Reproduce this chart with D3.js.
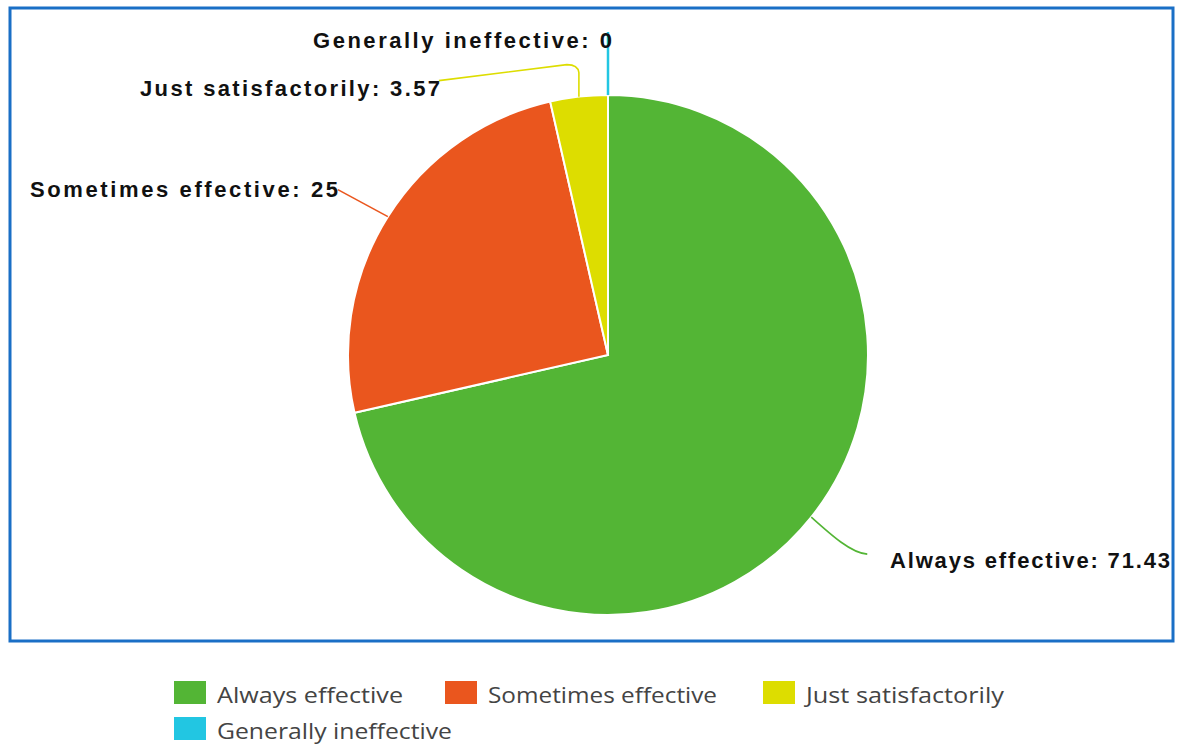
<!DOCTYPE html>
<html>
<head>
<meta charset="utf-8">
<script src="https://cdn.jsdelivr.net/npm/d3@7"></script>
<style>
  html, body { margin: 0; padding: 0; background: #fff; }
  svg { display: block; }
</style>
</head>
<body>
<svg id="chart" width="1203" height="746"></svg>
<script>
// ---- data ----
const categories = ["Always effective", "Sometimes effective", "Just satisfactorily", "Generally ineffective"];
const values = [71.43, 25, 3.57, 0];
const colors = ["#53b535", "#ea561e", "#dddd00", "#22c6e2"];

// ---- layout ----
const svg = d3.select("#chart");
const cx = 608, cy = 355, R = 260;

// frame
svg.append("rect")
  .attr("x", 10).attr("y", 8).attr("width", 1163).attr("height", 633)
  .attr("fill", "none").attr("stroke", "#1a6fc6").attr("stroke-width", 3);

const data = categories.map((c, i) => ({ name: c, value: values[i], color: colors[i] }));
const pie = d3.pie().value(d => d.value).sort(null).startAngle(0).endAngle(2 * Math.PI);
const arcs = pie(data);
const arc = d3.arc().innerRadius(0).outerRadius(R);

const g = svg.append("g").attr("transform", `translate(${cx},${cy})`);
g.selectAll("path.slice").data(arcs).enter().append("path")
  .attr("class", "slice")
  .attr("d", arc)
  .attr("fill", d => d.data.color)
  .attr("stroke", "#fff")
  .attr("stroke-width", d => d.value > 0 ? 2 : 0);

// label settings (layout only)
const labelLayout = [
  { tx: 890, ty: 568, len: 280, anchor: "start",
    path: (p) => `M${p[0]},${p[1]} C${p[0]+20},${p[1]+18} ${p[0]+40},${p[1]+36} ${p[0]+56},${p[1]+37}` },
  { tx: 30, ty: 197, len: 308, anchor: "start",
    path: (p) => `M${p[0]},${p[1]} L${p[0]-50},${p[1]-27}` },
  { tx: 140, ty: 96, len: 300, anchor: "start",
    path: (p) => `M${p[0]},${p[1]} L${p[0]},${p[1]-24} Q${p[0]-1},${p[1]-32} ${p[0]-12},${p[1]-32} L${p[0]-140},${p[1]-16}` },
  { tx: 313, ty: 48, len: 299, anchor: "start",
    path: (p) => `M${p[0]},${p[1]} L${p[0]},${p[1]-63}` }
];

const lblG = svg.append("g");
arcs.forEach((d, i) => {
  const mid = (d.startAngle + d.endAngle) / 2;
  const p = [cx + R * Math.sin(mid), cy - R * Math.cos(mid)];
  const L = labelLayout[i];
  lblG.append("path")
    .attr("d", L.path(p))
    .attr("fill", "none")
    .attr("stroke", d.data.color)
    .attr("stroke-width", i === 3 ? 2.5 : 1.6);
});
arcs.forEach((d, i) => {
  const L = labelLayout[i];
  lblG.append("text")
    .attr("x", L.tx).attr("y", L.ty)
    .attr("text-anchor", L.anchor)
    .attr("textLength", L.len)
    .attr("lengthAdjust", "spacing")
    .style("font-family", "'Liberation Sans', Arial, sans-serif")
    .style("font-weight", "bold")
    .style("font-size", "22px")
    .style("fill", "#111")
    .text(`${d.data.name}: ${d3.format("~g")(d.data.value)}`);
});

// legend
const legendLayout = [
  { x: 174, y: 681, tw: 186 },
  { x: 445, y: 681, tw: 229 },
  { x: 763, y: 681, tw: 198 },
  { x: 174, y: 717, tw: 235 }
];
const lg = svg.append("g");
data.forEach((d, i) => {
  const L = legendLayout[i];
  lg.append("rect").attr("x", L.x).attr("y", L.y).attr("width", 32).attr("height", 23).attr("fill", d.color);
  lg.append("text")
    .attr("x", L.x + 43).attr("y", L.y + 22)
    .attr("textLength", L.tw)
    .attr("lengthAdjust", "spacingAndGlyphs")
    .style("font-family", "'Open Sans', 'DejaVu Sans', sans-serif")
    .style("font-size", "22px")
    .style("fill", "#444")
    .text(d.name);
});
</script>
</body>
</html>
